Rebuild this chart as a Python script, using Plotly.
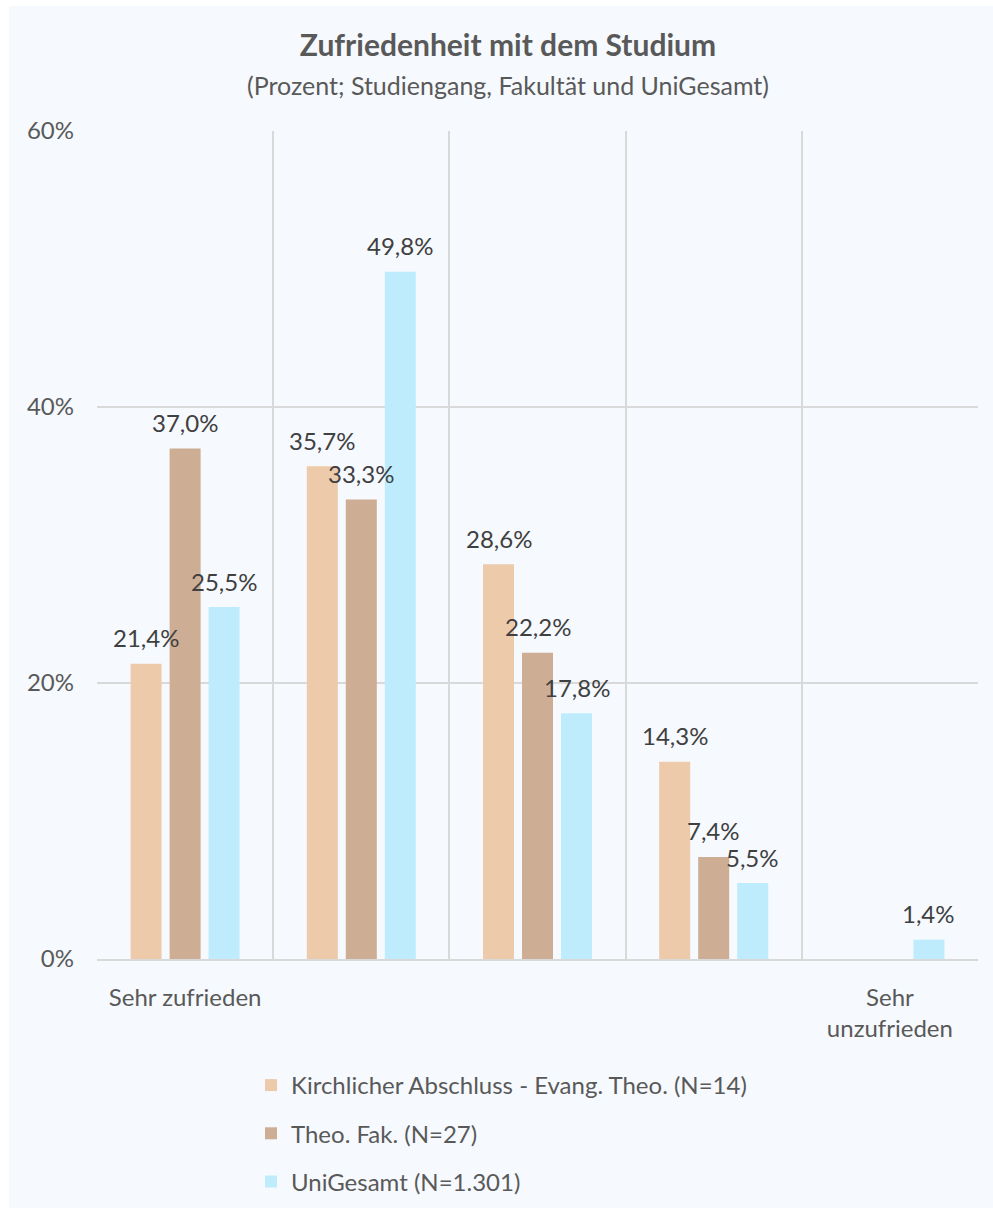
import plotly.graph_objects as go

categories = ["Sehr zufrieden", "k2", "k3", "k4", "Sehr unzufrieden"]
tick_labels = ["Sehr zufrieden", "", "", "", "Sehr<br>unzufrieden"]
series_names = [
    "Kirchlicher Abschluss - Evang. Theo. (N=14)",
    "Theo. Fak. (N=27)",
    "UniGesamt (N=1.301)",
]
kirchlich = [21.4, 35.7, 28.6, 14.3, None]
theo_fak = [37.0, 33.3, 22.2, 7.4, None]
uni_gesamt = [25.5, 49.8, 17.8, 5.5, 1.4]
y_ticks = [0, 20, 40, 60]
y_tick_labels = ["0%", "20%", "40%", "60%"]

colors = ["#EDCAAA", "#CDAD93", "#BFECFC"]
series_values = [kirchlich, theo_fak, uni_gesamt]

FONT = "Lato"
BG = "#F6F9FE"
GRID = "#D9D9D9"
FS = 24

fig = go.Figure()
for name, vals, col in zip(series_names, series_values, colors):
    fig.add_trace(go.Bar(
        x=categories, y=vals, name=name, marker_color=col,
        marker_line_width=0, legendgroup=name,
    ))

def fmt(v):
    return f"{v:.1f}".replace(".", ",") + "%"

annotations = []
for i, vals in enumerate(series_values):
    for cat, v in zip(categories, vals):
        if v is None:
            continue
        annotations.append(dict(
            x=cat, y=v, xref="x", yref="y", text=fmt(v), showarrow=False,
            xshift=(i - 1) * 39, yshift=26,
            font=dict(family=FONT, size=FS, color="#404040"),
        ))

annotations.append(dict(
    x=(508 - 97) / 881, y=(959 - 85) / 828, xref="paper", yref="paper",
    text="(Prozent; Studiengang, Fakultät und UniGesamt)", showarrow=False,
    font=dict(family=FONT, size=25, color="#595959"), xanchor="center", yanchor="middle",
))

fig.update_layout(
    width=993, height=1208,
    margin=dict(l=97, r=15, t=131, b=249, autoexpand=False),
    paper_bgcolor=BG, plot_bgcolor=BG,
    barmode="group", bargap=0.336, bargroupgap=0.205,
    title=dict(
        text="<b>Zufriedenheit mit dem Studium</b>",
        x=508 / 993, xanchor="center", xref="container",
        y=1 - 45 / 1208, yanchor="middle", yref="container",
        font=dict(family=FONT, size=30, color="#595959"),
    ),
    annotations=annotations,
    font=dict(family=FONT, size=FS, color="#595959"),
    legend=dict(
        x=(251 - 97) / 881, xanchor="left",
        y=-(1063 - 959) / 828, yanchor="top",
        orientation="v", traceorder="grouped", tracegroupgap=14,
        font=dict(family=FONT, size=FS, color="#595959"),
        bgcolor="rgba(0,0,0,0)",
    ),
    xaxis=dict(
        type="category", tickmode="array", tickvals=categories, ticktext=tick_labels,
        tickson="boundaries", showgrid=True, gridcolor=GRID, gridwidth=1.5,
        ticks="", showline=True, linecolor=GRID, linewidth=2,
        tickfont=dict(family=FONT, size=FS, color="#595959"),
        ticklabelstandoff=16, zeroline=False, automargin=False,
    ),
    yaxis=dict(
        range=[0, 60], tickmode="array", tickvals=y_ticks, ticktext=y_tick_labels,
        showgrid=True, gridcolor=GRID, gridwidth=1.5, zeroline=False,
        showline=False, ticks="", ticklabelstandoff=22, automargin=False,
        tickfont=dict(family=FONT, size=FS, color="#595959"),
    ),
    shapes=[
        dict(type="rect", xref="paper", yref="paper", layer="below",
             x0=(0 - 97) / 881, x1=(9 - 97) / 881, y0=-2, y1=2,
             fillcolor="white", line_width=0),
        dict(type="rect", xref="paper", yref="paper", layer="below",
             x0=-1, x1=2, y0=(959 - 6) / 828, y1=(959 - 0) / 828,
             fillcolor="white", line_width=0),
    ],
)

fig.write_html("out.html")
